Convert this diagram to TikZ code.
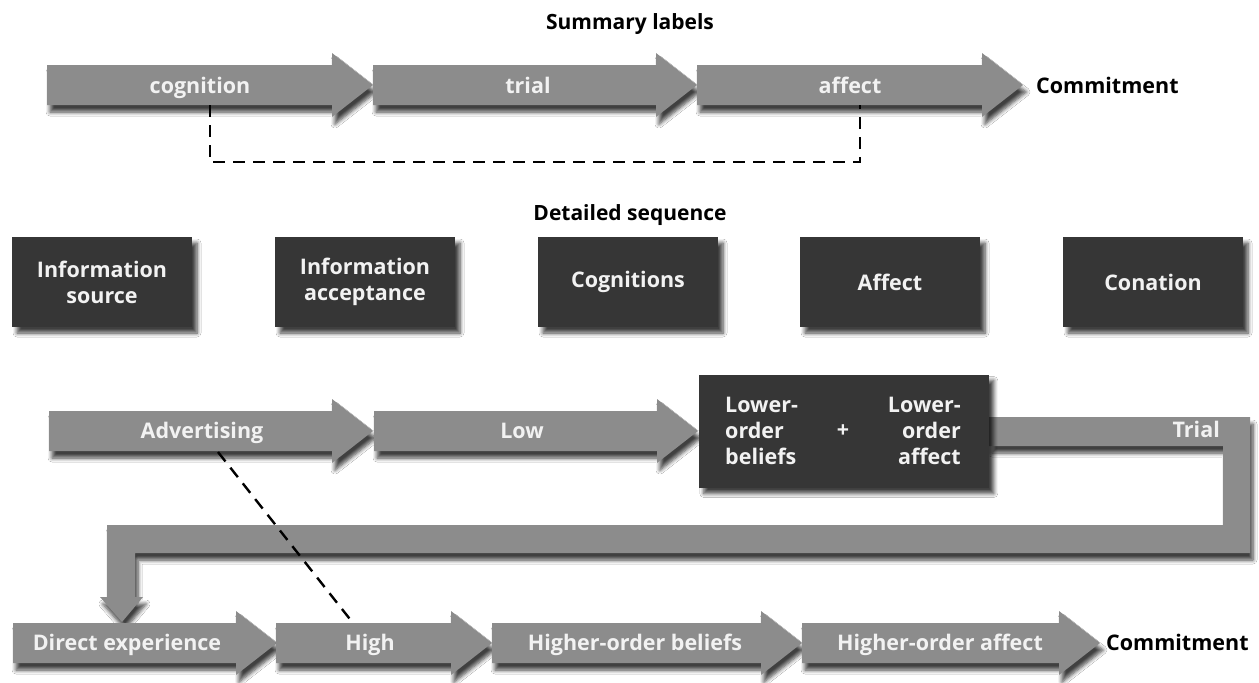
\documentclass[tikz,border=0pt]{standalone}
\usepackage{fontspec}
\setmainfont{Open Sans}
\usetikzlibrary{shadows.blur}
\definecolor{arrowgray}{HTML}{8C8C8C}
\definecolor{boxdark}{HTML}{363636}
\definecolor{lbltext}{HTML}{F2F2F2}
\tikzset{
  garrow/.style={fill=arrowgray, blur shadow={shadow xshift=3pt, shadow yshift=-7pt, shadow blur steps=6, shadow blur radius=4pt, shadow opacity=75}},
  lbl/.style={text=lbltext, font=\bfseries\fontsize{21.5}{26}\selectfont, inner sep=0pt, anchor=base},
  dbox/.style={fill=boxdark, text=lbltext, inner sep=0pt, align=center,
    font=\bfseries\fontsize{21.5}{26}\selectfont,
    blur shadow={shadow xshift=5pt, shadow yshift=-6pt, shadow blur steps=6, shadow blur radius=4pt, shadow opacity=75}},
  headtxt/.style={font=\bfseries\fontsize{21}{24}\selectfont, inner sep=0pt, anchor=base},
  endtxt/.style={font=\bfseries\fontsize{21.5}{26}\selectfont, inner sep=0pt, anchor=base west},
  dashline/.style={line width=2.4pt, dash pattern=on 12pt off 8pt},
}
\newcommand\grayarrow[3]{%
  \path[garrow] (#1,#3-20) -- (#2-41,#3-20) -- (#2-41,#3-32) -- (#2,#3) -- (#2-41,#3+32) -- (#2-41,#3+20) -- (#1,#3+20) -- cycle;}
\begin{document}
\begin{tikzpicture}[x=1pt,y=-1pt]
\useasboundingbox[fill=white] (0,0) rectangle (1259,683);

% headers
\node[headtxt] (hsum) at (630,29) {Summary labels};
\node[headtxt] (hdet) at (630,220) {Detailed sequence};

% top row
\grayarrow{47}{373}{85}
\grayarrow{373}{697}{85}
\grayarrow{697}{1023}{85}
\node[lbl] (cog) at (200,93) {cognition};
\node[lbl] (tri) at (528,93) {trial};
\node[lbl] (aff) at (850,93) {affect};
\node[endtxt] (com1) at (1036,93) {Commitment};
\coordinate (cogB) at (210,105);
\coordinate (affB) at (860,105);
\draw[dashline] (cogB) -- (210,162) -| (affB);

% detailed boxes
\node[dbox, minimum width=180pt, minimum height=90pt] (b1) at (102,282) {Information\\source};
\node[dbox, minimum width=180pt, minimum height=90pt] (b2) at (365,282) {Information\\acceptance};
\node[dbox, minimum width=180pt, minimum height=90pt] (b3) at (628,282) {Cognitions};
\node[dbox, minimum width=180pt, minimum height=90pt] (b4) at (890,282) {Affect};
\node[dbox, minimum width=180pt, minimum height=90pt] (b5) at (1153,282) {Conation};

% loop band from the lower-order box back to direct experience
\coordinate (lobE) at (989,431);
\path[garrow] ([yshift=14pt]lobE) -| (1250,553) -| (135,597) -- (143,597) -- (122,622) -- (100,597) -- (107,597) |- (1223,525) |- ([yshift=-15pt]lobE) -- cycle;
\node[lbl, anchor=base east] (trial) at (1220,437) {Trial};

% second row
\grayarrow{49}{373}{431}
\grayarrow{374}{698}{431}
\node[lbl] (adv) at (202,438) {Advertising};
\node[lbl] (low) at (522,438) {Low};
\node[dbox, minimum width=290pt, minimum height=113pt, anchor=east] (lob) at (lobE) {};
\node[text=lbltext, font=\bfseries\fontsize{21.5}{26}\selectfont, inner sep=0pt, align=left, anchor=west] (lobl) at (725,431) {Lower-\\order\\beliefs};
\node[text=lbltext, font=\bfseries\fontsize{21.5}{26}\selectfont, inner sep=0pt, align=right, anchor=east] (lobr) at (961,431) {Lower-\\order\\affect};
\node[text=lbltext, font=\bfseries\fontsize{21.5}{26}\selectfont, inner sep=0pt] (plus) at (843,431) {+};

% bottom row
\grayarrow{13}{277}{643}
\grayarrow{276}{492}{643}
\grayarrow{492}{802}{643}
\grayarrow{802}{1100}{643}
\node[lbl] (de) at (127,650) {Direct experience};
\node[lbl] (high) at (370,650) {High};
\node[lbl] (hob) at (635,650) {Higher-order beliefs};
\node[lbl] (hoa) at (940,650) {Higher-order affect};
\node[endtxt] (com2) at (1106,650) {Commitment};

% dashed diagonal
\coordinate (advB) at (218,452);
\coordinate (highT) at (353,623);
\draw[dashline] (advB) -- (highT);
\end{tikzpicture}
\end{document}
